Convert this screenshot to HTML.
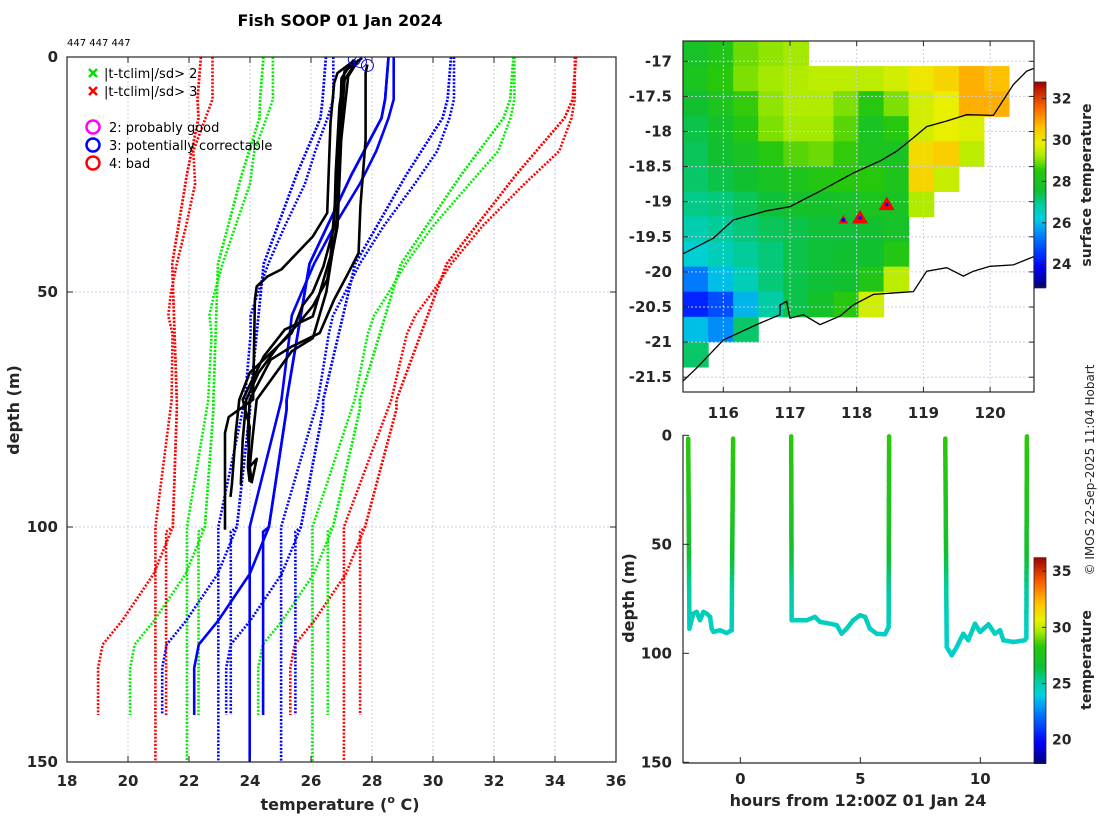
<!DOCTYPE html>
<html><head><meta charset="utf-8"><style>
html,body{margin:0;padding:0;background:#fff;}
svg{display:block;font-family:"DejaVu Sans","Liberation Sans",sans-serif;}
.tk{font-size:15px;font-weight:bold;fill:#262626;}
.tks{font-size:14px;font-weight:bold;fill:#262626;}
</style></head><body>
<svg id="fig" width="1100" height="820" viewBox="0 0 1100 820" xmlns="http://www.w3.org/2000/svg">
<defs>
<clipPath id="clipL"><rect x="67" y="57" width="549" height="705"/></clipPath>
<clipPath id="clipM"><rect x="683" y="41" width="351" height="351"/></clipPath>
<clipPath id="clipB"><rect x="683" y="420" width="351" height="344"/></clipPath>
</defs>
<rect width="1100" height="820" fill="#fff"/>
<g id="gridL"></g>
<g id="climL" clip-path="url(#clipL)"></g>
<g id="profL" clip-path="url(#clipL)"></g>
<g id="axL"></g>
<g id="mapG"></g>
<g id="trackG"></g>
<text x="340" y="26" text-anchor="middle" font-size="16" font-weight="bold" fill="#000">Fish SOOP 01 Jan 2024</text>
<text x="67" y="46" font-size="10" fill="#000">447 447 447</text>
<text x="340" y="810" text-anchor="middle" font-size="16" font-weight="bold" fill="#262626">temperature (<tspan font-size="11" dy="-7">o</tspan><tspan dy="7"> C)</tspan></text>
<text transform="translate(19,410) rotate(-90)" text-anchor="middle" font-size="16" font-weight="bold" fill="#262626">depth (m)</text>
<g>
<g stroke="#00dd00" stroke-width="2.5"><line x1="89" y1="69" x2="97" y2="77"/><line x1="97" y1="69" x2="89" y2="77"/></g>
<text x="104" y="78" font-size="13" fill="#000">|t-tclim|/sd&gt; 2</text>
<g stroke="#ff0000" stroke-width="2.5"><line x1="89" y1="87" x2="97" y2="95"/><line x1="97" y1="87" x2="89" y2="95"/></g>
<text x="104" y="96" font-size="13" fill="#000">|t-tclim|/sd&gt; 3</text>
<circle cx="93" cy="127" r="6.5" fill="none" stroke="#ff00ff" stroke-width="2.5"/>
<text x="109" y="132" font-size="13" fill="#000">2: probably good</text>
<circle cx="93" cy="145" r="6.5" fill="none" stroke="#0000ff" stroke-width="2.5"/>
<text x="109" y="150" font-size="13" fill="#000">3: potentially correctable</text>
<circle cx="93" cy="163" r="6.5" fill="none" stroke="#ff0000" stroke-width="2.5"/>
<text x="109" y="168" font-size="13" fill="#000">4: bad</text>
</g>
<text transform="translate(1091,185) rotate(-90)" text-anchor="middle" font-size="14" font-weight="bold" fill="#262626">surface temperature</text>
<text transform="translate(1091,660) rotate(-90)" text-anchor="middle" font-size="14" font-weight="bold" fill="#262626">temperature</text>
<text transform="translate(1094,470) rotate(-90)" text-anchor="middle" font-size="12" fill="#262626">© IMOS 22-Sep-2025 11:04 Hobart</text>
<text transform="translate(634,598) rotate(-90)" text-anchor="middle" font-size="16" font-weight="bold" fill="#262626">depth (m)</text>
<text x="858" y="806" text-anchor="middle" font-size="16" font-weight="bold" fill="#262626">hours from 12:00Z 01 Jan 24</text>
</svg>
<script>
// ---------------- DATA: profile panel ----------------
const tTicks = [18,20,22,24,26,28,30,32,34,36];
const dTicks = [0,50,100,150];
const climADepth = [0,9,13,20,27,36,44,50,55,59,73,100,150];
const climAMean  = [28.71,28.71,28.54,28.14,27.6,26.76,26.1,25.7,25.37,25.3,25.03,23.99,23.99];
const climASd    = [1.98,1.98,2.0,2.0,1.8,1.62,1.5,1.43,1.35,1.28,1.2,1.03,1.03];
const climBDepth = [0,9,13,25,44,73,75,100,110,120,125,130,140];
const climBMean  = [28.54,28.43,28.31,27.33,25.95,25.2,25.2,24.62,23.99,22.95,22.32,22.17,22.17];
const climBSd    = [2.05,2.05,2.0,1.8,1.5,1.2,1.2,1.05,1.05,1.05,1.05,1.05,1.05];
const climCDepth = [0,9,13,25,44,73,75,100,101,140];
const climCMean  = [28.54,28.43,28.31,27.33,25.95,25.2,25.2,24.62,24.43,24.43];
const climCSd    = [2.05,2.05,2.0,1.8,1.5,1.2,1.2,1.05,1.06,1.06];
const p1T = [27.45,26.87,26.76,26.64,26.53,26.06,25.03,24.57,24.22,24.16,24.1,23.3,23.18,23.18];
const p1D = [0.6,3.4,5.5,14,33.2,38.2,45.2,46.7,48.8,51.6,72.9,76.6,80,100.6];
const p2T = [27.68,27.1,26.93,26.81,26.76,26.41,26.06,25.72,25.37,24.45,23.99,23.65,23.53,23.41,23.36];
const p2D = [0.2,3.0,10.5,24.7,36,44.5,50,52.9,58.7,64.4,67.2,72.9,80,90.7,93.6];
const p3T = [27.85,27.79,27.79,27.62,27.56,27.22,26.76,26.29,25.37,24.68,23.99,23.93,23.99,24.22,24.05];
const p3D = [1.6,3.4,17.6,31.8,41.7,46,51.6,58.7,61.6,64.4,72.9,80,87.2,85.5,90.7];
const p4T = [27.56,27.22,26.99,26.87,26.53,26.06,25.6,24.91,24.28,23.88,23.76,23.7];
const p4D = [0.6,4.1,17.6,36,47.4,53,56.6,61.6,67.2,72.9,81.5,91];
const p5T = [27.5,27.1,26.87,26.64,26.06,25.14,24.45,23.76,23.99,23.93,23.99];
const p5D = [0.9,4.8,24.7,42.4,55.2,58,63.7,72.9,78.7,87.2,90.4];
const p6T = [27.4,27.0,26.85,26.5,26.06,25.37,24.22,24.1,23.99,24.05];
const p6D = [0.6,4.5,35.5,50,59.8,62.6,72.9,80,87.2,90];
const qcT = [27.42,27.85,27.62];
const qcD = [0.5,1.8,1.0];

// ---------------- DATA: map ----------------
const lonTicks = [116,117,118,119,120];
const latTicks = [-17,-17.5,-18,-18.5,-19,-19.5,-20,-20.5,-21,-21.5];
const sstCbTicks = [24,26,28,30,32];
const N = null;
const sstGrid = [
 [27.8,28.2,28.9,29.1,29.2,N,N,N,N,N,N,N,N,N],
 [28.0,28.5,29.0,29.2,29.3,29.4,29.4,29.4,29.6,30.0,30.3,30.8,30.6,N],
 [27.6,28.0,28.6,29.1,29.3,29.3,29.0,28.4,29.0,29.6,29.8,30.8,30.8,N],
 [27.4,27.7,28.3,29.0,29.2,29.2,28.8,27.9,28.4,29.6,29.8,29.7,N,N],
 [27.3,27.6,27.9,28.4,28.8,28.9,28.6,28.0,27.9,30.2,30.4,29.4,N,N],
 [27.2,27.4,27.6,27.9,28.1,28.3,28.4,28.5,28.1,30.3,29.5,N,N,N],
 [27.0,27.1,27.3,27.5,27.7,27.7,27.8,28.0,27.9,29.3,N,N,N,N],
 [26.7,26.9,27.1,27.3,27.4,27.5,27.5,27.6,27.8,N,N,N,N,N],
 [26.3,26.6,26.9,27.1,27.4,27.5,27.6,27.6,28.3,N,N,N,N,N],
 [25.3,26.0,26.6,27.1,27.4,27.5,27.6,28.2,29.4,N,N,N,N,N],
 [24.3,24.8,25.9,26.8,27.4,27.7,28.4,29.6,N,N,N,N,N,N],
 [26,25.5,27.2,N,N,N,N,N,N,N,N,N,N,N],
 [27.2,N,N,N,N,N,N,N,N,N,N,N,N,N],
 [N,N,N,N,N,N,N,N,N,N,N,N,N,N]
];
const coast1Lon = [115.39,115.85,116.15,116.65,117.0,117.45,117.95,118.35,118.6,118.85,119.05,119.35,119.65,120.05,120.35,120.55,120.66];
const coast1Lat = [-19.745,-19.52,-19.26,-19.13,-19.07,-18.85,-18.59,-18.42,-18.28,-18.09,-17.93,-17.85,-17.76,-17.77,-17.33,-17.14,-17.1];
const coast2Lon = [115.39,115.6,116.0,116.5,116.85,116.85,116.95,117.0,117.2,117.45,117.75,117.95,118.25,118.85,119.05,119.35,119.6,119.75,120.0,120.35,120.66];
const coast2Lat = [-21.56,-21.37,-20.97,-20.75,-20.61,-20.47,-20.42,-20.66,-20.61,-20.75,-20.63,-20.47,-20.32,-20.28,-19.99,-19.94,-20.06,-19.99,-19.92,-19.9,-19.78];
const dropLon = [117.8,118.05,118.45];
const dropLat = [-19.26,-19.23,-19.04];
const dropSize = [5,8,8];

// ---------------- DATA: depth-time track ----------------
const hourTicks = [0,5,10];
const trackDTicks = [0,50,100,150];
const trkCbTicks = [20,25,30,35];
const dive1H = [-2.17,-2.12,-1.96,-1.82,-1.68,-1.54,-1.40,-1.26,-1.19,-1.12,-0.85,-0.57,-0.36,-0.30];
const dive1D = [1.5,88.7,81.8,81,84.8,81,81.8,83.3,88.7,90.2,89.4,90.7,89.4,1.5];
const dive2H = [2.12,2.14,2.21,2.77,3.11,3.32,3.74,4.02,4.22,4.43,4.71,4.99,5.20,5.40,5.68,6.03,6.18,6.20];
const dive2D = [0.5,84.8,84.8,84.8,83.3,85.6,86.4,87.1,91,88.7,84.8,82.5,83.3,88.7,91,91.3,88,0.5];
const dive3H = [8.54,8.60,8.81,9.02,9.29,9.50,9.78,9.99,10.34,10.61,10.82,10.96,11.38,11.86,11.92,11.94];
const dive3D = [1.5,97.1,100.9,97.1,91,94,86.4,90.2,86.7,91,89.4,94,94.8,94,93,0.5];
const tempProfD = [0,20,40,55,70,85,100];
const tempProfT = [28.4,27.9,27.2,26.5,25.3,24.6,24.3];

// ---------------- helpers ----------------
const NS = "http://www.w3.org/2000/svg";
function el(tag, attrs, parent){ const e=document.createElementNS(NS,tag); for(const k in attrs) e.setAttribute(k,attrs[k]); if(parent) parent.appendChild(e); return e; }
const xL = t => 67 + (t-18)*30.5;
const yL = d => 57 + d*4.7;
const xM = lon => 723.3 + (lon-116)*66.7;
const yM = lat => 61.3 + (-17-lat)*70.2;
const xB = h => 740.3 + h*24;
const yB = d => 435.3 + d*2.18;
const cstops = [[0,[0,0,128]],[0.1,[0,0,255]],[0.25,[0,128,255]],[0.33,[0,208,224]],[0.4,[0,205,160]],[0.47,[16,192,48]],[0.57,[40,200,10]],[0.64,[170,235,0]],[0.7,[235,240,0]],[0.78,[255,192,0]],[0.88,[255,96,0]],[1,[160,0,0]]];
function cmap(f){ f=Math.max(0,Math.min(1,f)); for(let i=1;i<cstops.length;i++){ if(f<=cstops[i][0]){ const a=cstops[i-1],b=cstops[i]; const u=(f-a[0])/(b[0]-a[0]); const c=a[1].map((v,j)=>Math.round(v+(b[1][j]-v)*u)); return `rgb(${c[0]},${c[1]},${c[2]})`; } } return 'rgb(160,0,0)'; }
const sstMin=22.9, sstMax=32.8, trkMin=17.9, trkMax=36.2;
function interp(xs, ys, x){ if(x<=xs[0]) return ys[0]; for(let i=1;i<xs.length;i++){ if(x<=xs[i]) return ys[i-1]+(ys[i]-ys[i-1])*(x-xs[i-1])/(xs[i]-xs[i-1]); } return ys[ys.length-1]; }

// ---------------- profile panel ----------------
const gridL=document.getElementById('gridL');
tTicks.forEach(t=>{ if(t>18&&t<36){ const g=el('line',{x1:xL(t),x2:xL(t),y1:57,y2:762,stroke:'#c8cfe6','stroke-width':1,'stroke-dasharray':'2,2'},gridL);
   }});
dTicks.forEach(d=>{ if(d>0&&d<150){ const g=el('line',{x1:67,x2:616,y1:yL(d),y2:yL(d),stroke:'#c8cfe6','stroke-width':1,'stroke-dasharray':'2,2'},gridL);
   }});

const climL=document.getElementById('climL');
const climSets=[[climADepth,climAMean,climASd,'a'],[climBDepth,climBMean,climBSd,'b'],[climCDepth,climCMean,climCSd,'c']];
const kCol={'-3':'#ff0000','-2':'#00ee00','-1':'#0000ff','1':'#0000ff','2':'#00ee00','3':'#ff0000'};
climSets.forEach(([dep,mean,sd,nm])=>{
  [-3,-2,-1,1,2,3].forEach(k=>{
    const pts=dep.map((d,i)=>`${xL(mean[i]+k*sd[i]).toFixed(1)},${yL(d).toFixed(1)}`).join(' ');
    const p=el('polyline',{points:pts,fill:'none',stroke:kCol[k],'stroke-width':2.6,'stroke-dasharray':'2,1.6'},climL);
    
    
  });
});
climSets.forEach(([dep,mean,sd,nm])=>{
  const pts=dep.map((d,i)=>`${xL(mean[i]).toFixed(1)},${yL(d).toFixed(1)}`).join(' ');
  const p=el('polyline',{points:pts,fill:'none',stroke:'#0000ff','stroke-width':2.6},climL);
  
  
});
const profL=document.getElementById('profL');
[[p1T,p1D],[p2T,p2D],[p3T,p3D],[p4T,p4D],[p5T,p5D],[p6T,p6D]].forEach(([T,D],i)=>{
  const pts=T.map((t,j)=>`${xL(t).toFixed(1)},${yL(D[j]).toFixed(1)}`).join(' ');
  const p=el('polyline',{points:pts,fill:'none',stroke:'#000','stroke-width':2.6,'stroke-linejoin':'round'},profL);
  
  
});
qcT.forEach((t,i)=>{
  const c=el('circle',{cx:xL(t),cy:yL(qcD[i]),r:6,fill:'none',stroke:'#0000ff','stroke-width':1},profL);
  
  
});
const axL=document.getElementById('axL');
const boxL=el('rect',{x:67,y:57,width:549,height:705,fill:'none',stroke:'#262626','stroke-width':1.2},axL);
 
tTicks.forEach(t=>{
  el('line',{x1:xL(t),x2:xL(t),y1:762,y2:756,stroke:'#262626'},axL);
  el('line',{x1:xL(t),x2:xL(t),y1:57,y2:63,stroke:'#262626'},axL);
  const tx=el('text',{x:xL(t),y:786,'text-anchor':'middle',class:'tk'},axL); tx.textContent=t;
   
});
dTicks.forEach(d=>{
  el('line',{x1:67,x2:73,y1:yL(d),y2:yL(d),stroke:'#262626'},axL);
  el('line',{x1:616,x2:610,y1:yL(d),y2:yL(d),stroke:'#262626'},axL);
  const tx=el('text',{x:58,y:yL(d)+5,'text-anchor':'end',class:'tk'},axL); tx.textContent=d;
   
});

// ---------------- map ----------------
const mapG=document.getElementById('mapG');
const mg=el('g',{'clip-path':'url(#clipM)'},mapG);
const nR=sstGrid.length, nC=sstGrid[0].length, cw=351/nC, ch=351/nR;
sstGrid.forEach((row,r)=>row.forEach((v,c)=>{
  if(v===null) return;
  const rc=el('rect',{x:(683+c*cw).toFixed(2),y:(41+r*ch).toFixed(2),width:(cw+0.6).toFixed(2),height:(ch+0.6).toFixed(2),fill:cmap((v-sstMin)/(sstMax-sstMin))},mg);
  
  
}));
lonTicks.forEach(l=>{ el('line',{x1:xM(l),x2:xM(l),y1:41,y2:392,stroke:'#c8cfe6','stroke-dasharray':'2,2'},mg); });
latTicks.forEach(l=>{ el('line',{x1:683,x2:1034,y1:yM(l),y2:yM(l),stroke:'#c8cfe6','stroke-dasharray':'2,2'},mg); });
[[coast1Lon,coast1Lat,'coastline-north'],[coast2Lon,coast2Lat,'coastline-south']].forEach(([lo,la,nm])=>{
  const p=el('polyline',{points:lo.map((x,i)=>`${xM(x).toFixed(1)},${yM(la[i]).toFixed(1)}`).join(' '),fill:'none',stroke:'#000','stroke-width':1.3},mg);
   
});
dropLon.forEach((lo,i)=>{
  const x=xM(lo), y=yM(dropLat[i]), s=dropSize[i];
  const t=el('polygon',{points:`${x},${y-s} ${x-s},${y+s*0.7} ${x+s},${y+s*0.7}`,fill:'#ff0000'},mg);
   
  el('circle',{cx:x,cy:y,r:1.8,fill:'#0000ff'},mg);
});
const mbox=el('rect',{x:683,y:41,width:351,height:351,fill:'none',stroke:'#262626','stroke-width':1.2},mapG);
 
lonTicks.forEach(l=>{
  el('line',{x1:xM(l),x2:xM(l),y1:392,y2:387,stroke:'#262626'},mapG);
  el('line',{x1:xM(l),x2:xM(l),y1:41,y2:46,stroke:'#262626'},mapG);
  const tx=el('text',{x:xM(l),y:418,'text-anchor':'middle',class:'tk'},mapG); tx.textContent=l;
   
});
latTicks.forEach(l=>{
  el('line',{x1:683,x2:688,y1:yM(l),y2:yM(l),stroke:'#262626'},mapG);
  el('line',{x1:1034,x2:1029,y1:yM(l),y2:yM(l),stroke:'#262626'},mapG);
  const tx=el('text',{x:672,y:yM(l)+5,'text-anchor':'end',class:'tk'},mapG); tx.textContent=l;
   
});
const cb1=el('g',{},mapG);
 
for(let i=0;i<103;i++){ const y0=82+i*2; const v=sstMax-(i+0.5)*2*(sstMax-sstMin)/205; el('rect',{x:1034,y:y0,width:12,height:2.3,fill:cmap((v-sstMin)/(sstMax-sstMin))},cb1); }
el('rect',{x:1034,y:82,width:12,height:205,fill:'none',stroke:'#262626','stroke-width':0.8},cb1);
sstCbTicks.forEach(v=>{ const y=287-(v-sstMin)*205/(sstMax-sstMin);
  el('line',{x1:1046,x2:1042,y1:y,y2:y,stroke:'#262626'},cb1);
  const tx=el('text',{x:1052,y:y+5,class:'tks'},cb1); tx.textContent=v;
    });

// ---------------- depth-time track ----------------
const trackG=document.getElementById('trackG');
const tg=el('g',{'clip-path':'url(#clipB)'},trackG);
[[dive1H,dive1D],[dive2H,dive2D],[dive3H,dive3D]].forEach(([H,D],di)=>{
  const grp=el('g',{},tg);
   
  for(let i=1;i<H.length;i++){
    const n=Math.max(1,Math.ceil(Math.abs(D[i]-D[i-1])/3));
    for(let j=0;j<n;j++){
      const h0=H[i-1]+(H[i]-H[i-1])*j/n, h1=H[i-1]+(H[i]-H[i-1])*(j+1)/n;
      const d0=D[i-1]+(D[i]-D[i-1])*j/n, d1=D[i-1]+(D[i]-D[i-1])*(j+1)/n;
      const tv=interp(tempProfD,tempProfT,(d0+d1)/2);
      el('line',{x1:xB(h0).toFixed(1),y1:yB(d0).toFixed(1),x2:xB(h1).toFixed(1),y2:yB(d1).toFixed(1),stroke:cmap((tv-trkMin)/(trkMax-trkMin)),'stroke-width':4.5,'stroke-linecap':'round'},grp);
    }
  }
});
el('line',{x1:683,x2:683,y1:435,y2:763,stroke:'#262626','stroke-width':1.2},trackG);
el('line',{x1:683,x2:1034,y1:763,y2:763,stroke:'#262626','stroke-width':1.2},trackG);
hourTicks.forEach(h=>{
  el('line',{x1:xB(h),x2:xB(h),y1:763,y2:757,stroke:'#262626'},trackG);
  const tx=el('text',{x:xB(h),y:784,'text-anchor':'middle',class:'tk'},trackG); tx.textContent=h;
   
});
trackDTicks.forEach(d=>{
  el('line',{x1:683,x2:689,y1:yB(d),y2:yB(d),stroke:'#262626'},trackG);
  const tx=el('text',{x:672,y:yB(d)+5,'text-anchor':'end',class:'tk'},trackG); tx.textContent=d;
   
});
const cb2=el('g',{},trackG);
 
for(let i=0;i<103;i++){ const y0=557.7+i*2; const v=trkMax-(i+0.5)*2*(trkMax-trkMin)/205.6; el('rect',{x:1034,y:y0,width:12,height:2.3,fill:cmap((v-trkMin)/(trkMax-trkMin))},cb2); }
el('rect',{x:1034,y:557.7,width:12,height:205.6,fill:'none',stroke:'#262626','stroke-width':0.8},cb2);
trkCbTicks.forEach(v=>{ const y=763.3-(v-trkMin)*205.6/(trkMax-trkMin);
  el('line',{x1:1046,x2:1042,y1:y,y2:y,stroke:'#262626'},cb2);
  const tx=el('text',{x:1052,y:y+5,class:'tks'},cb2); tx.textContent=v;
    });
</script>
</body></html>
